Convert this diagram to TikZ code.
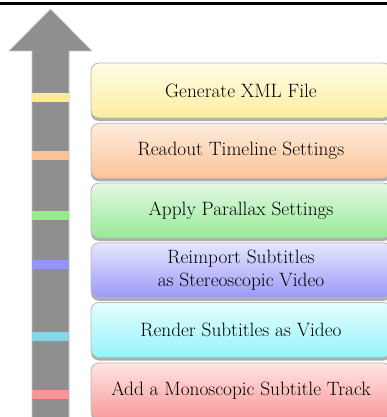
\documentclass[tikz,border=0pt]{standalone}
\usepackage{fontspec}
\usetikzlibrary{shadows}
\definecolor{arrowgray}{HTML}{8F8F8F}
\definecolor{arrowedge}{HTML}{C8C8C8}
\definecolor{yT}{HTML}{FFFCE6}\definecolor{yB}{HTML}{FCEE9E}\definecolor{yS}{HTML}{FCEB96}
\definecolor{oT}{HTML}{FEEBDD}\definecolor{oB}{HTML}{FBC597}\definecolor{oS}{HTML}{FCC297}
\definecolor{gT}{HTML}{E4F9E4}\definecolor{gB}{HTML}{96EA96}\definecolor{gS}{HTML}{90EE90}
\definecolor{bT}{HTML}{E6E6FD}\definecolor{bB}{HTML}{9A9AF9}\definecolor{bS}{HTML}{9595FA}
\definecolor{cT}{HTML}{E4FEFE}\definecolor{cB}{HTML}{96F4F9}\definecolor{cS}{HTML}{8CD3E8}
\definecolor{rT}{HTML}{FEE5E5}\definecolor{rB}{HTML}{FB9A9A}\definecolor{rS}{HTML}{FC9595}
\tikzset{
  stepbox/.style={draw=gray!55, line width=0.8pt, rounded corners=8pt,
    minimum width=300pt, minimum height=55pt, align=center, inner sep=0pt,
    font=\fontsize{19.3}{22.5}\selectfont,
    drop shadow={shadow xshift=0pt, shadow yshift=-3pt, fill=black!40, opacity=0.8}}
}
\begin{document}
\begin{tikzpicture}[x=1pt,y=-1pt]
\useasboundingbox (0,0) rectangle (387,417);
\clip (0,0) rectangle (387,417);
\fill[white] (0,0) rectangle (387,417);
\draw[line width=2.2pt] (0,3.5) -- (387,3.5);
% arrow
\draw[fill=arrowgray, draw=arrowedge, line width=0.7pt]
  (32,425) -- (32,51) -- (9,51) -- (50.5,9) -- (92,51) -- (69,51) -- (69,425) -- cycle;
\fill[yS] (32.4,93) rectangle (68.6,102);
\fill[oS] (32.4,151) rectangle (68.6,160);
\fill[gS] (32.4,211) rectangle (68.6,220);
\fill[bS] (32.4,260) rectangle (68.6,269);
\fill[cS] (32.4,332) rectangle (68.6,341);
\fill[rS] (32.4,390) rectangle (68.6,399);
% boxes
\node[stepbox, top color=yT, bottom color=yB] (b1) at (241,90.5) {Generate XML File};
\node[stepbox, top color=oT, bottom color=oB] (b2) at (241,150.8) {Readout Timeline Settings};
\node[stepbox, top color=gT, bottom color=gB] (b3) at (241,210.5) {Apply Parallax Settings};
\node[stepbox, top color=bT, bottom color=bB] (b4) at (241,270.3) {Reimport Subtitles\\as Stereoscopic Video};
\node[stepbox, top color=cT, bottom color=cB] (b5) at (241,330) {Render Subtitles as Video};
\node[stepbox, top color=rT, bottom color=rB] (b6) at (241,390.5) {Add a Monoscopic Subtitle Track};
\end{tikzpicture}
\end{document}
